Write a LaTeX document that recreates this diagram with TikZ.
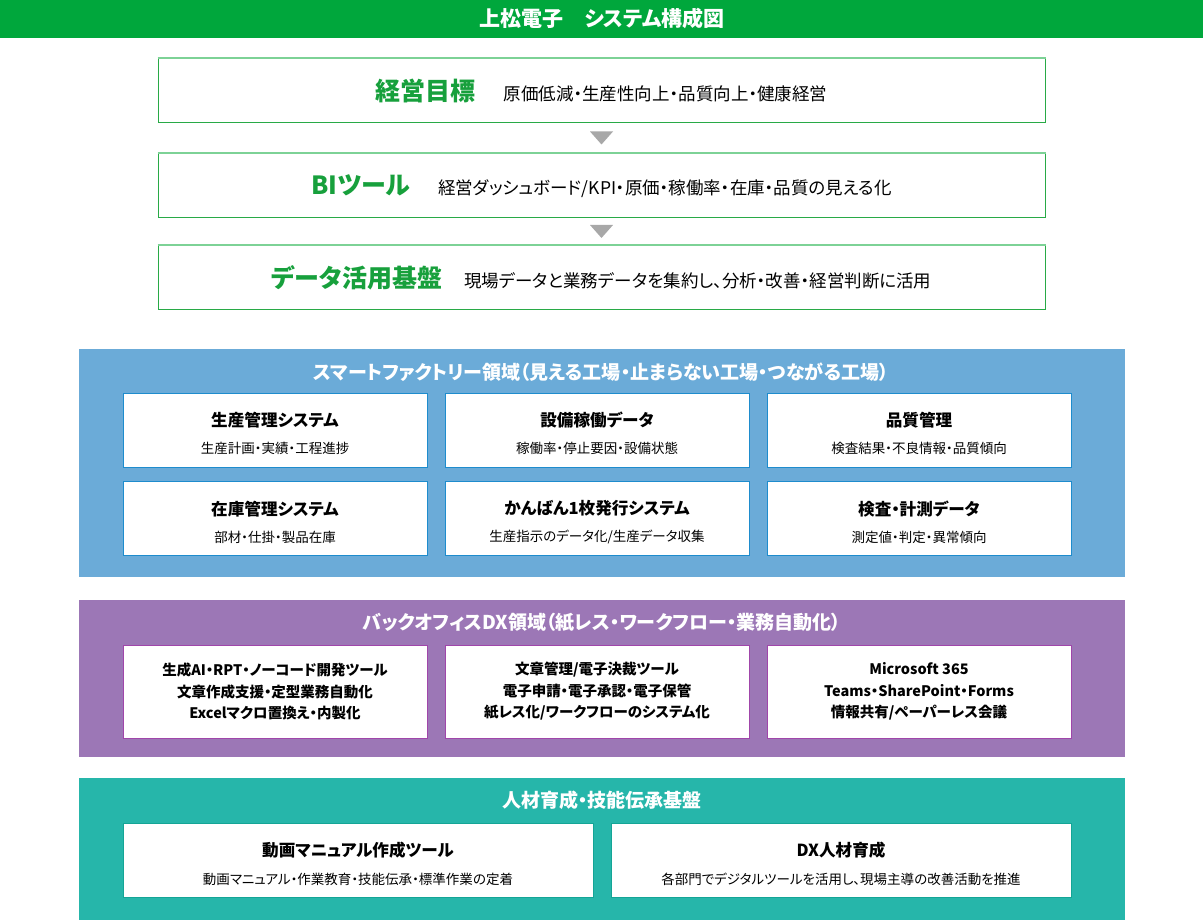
\documentclass[tikz,border=0pt]{standalone}
\usepackage{fontspec}
\setmainfont[RawFeature={+palt}]{Noto Sans CJK JP}
\usetikzlibrary{calc}

\definecolor{barg}{RGB}{0,167,60}
\definecolor{lblg}{RGB}{23,160,60}
\definecolor{goalline}{RGB}{40,170,70}
\definecolor{goaltop}{RGB}{125,210,150}
\definecolor{trig}{RGB}{168,168,168}
\definecolor{smartbg}{RGB}{107,171,216}
\definecolor{smartline}{RGB}{30,140,205}
\definecolor{officebg}{RGB}{156,119,182}
\definecolor{officeline}{RGB}{160,70,170}
\definecolor{staffbg}{RGB}{38,182,170}
\definecolor{staffline}{RGB}{20,165,150}

\newcommand{\cellbox}[2]{\rule{0pt}{22pt}{\fontsize{16.6}{18}\selectfont\bfseries #1}\\[13pt]{\fontsize{13.5}{14}\selectfont #2}}
\newcommand{\goallabel}[1]{\textcolor{lblg}{\fontsize{25}{27}\selectfont\bfseries #1}}

\begin{document}
\begin{tikzpicture}[x=1pt, y=-1pt,
  goal/.style={draw=goalline, line width=1pt, fill=white, minimum width=887pt, minimum height=64pt, inner sep=0pt, font=\fontsize{17.5}{19}\selectfont},
  head/.style={text=white, font=\fontsize{19}{22}\selectfont\bfseries},
  card/.style={draw=#1, line width=1pt, fill=white, minimum width=304pt, minimum height=74pt, inner sep=0pt, align=center},
  tall/.style={minimum height=93pt, font=\fontsize{14.5}{21.5}\selectfont\bfseries},
  tri/.style={fill=trig}]
\useasboundingbox (0,0) rectangle (1203,920);

% 見出し
\fill[barg] (0,0) rectangle (1203,38);
\node[text=white, font=\fontsize{21}{24}\selectfont\bfseries] (title) at (602,19) {上松電子　システム構成図};

% 上の三段
\node[goal] (goal) at (601.5,91) {\goallabel{経営目標}\hspace{28pt}原価低減・生産性向上・品質向上・健康経営};
\node[goal] (bi) at (601.5,186) {\goallabel{BIツール}\hspace{28pt}経営ダッシュボード/KPI・原価・稼働率・在庫・品質の見える化};
\node[goal] (base) at (601.5,278) {\goallabel{データ活用基盤}\hspace{22pt}現場データと業務データを集約し、分析・改善・経営判断に活用};
\foreach \n in {goal,bi,base}
  \draw[goaltop, line width=2pt] (\n.north west) -- (\n.north east);

\fill[tri] ($(goal.south)!0.5!(bi.north)+(-11.5,-7)$) -- ++(23,0) -- ++(-11.5,13) -- cycle;
\fill[tri] ($(bi.south)!0.5!(base.north)+(-11.5,-7)$) -- ++(23,0) -- ++(-11.5,13) -- cycle;

% スマートファクトリー
\fill[smartbg] (79,349) rectangle (1125,577);
\node[head] (smart) at (601,372) {スマートファクトリー領域（見える工場・止まらない工場・つながる工場）};
\node[card=smartline] (prod) at (275,430) {\cellbox{生産管理システム}{生産計画・実績・工程進捗}};
\node[card=smartline] (oper) at (597,430) {\cellbox{設備稼働データ}{稼働率・停止要因・設備状態}};
\node[card=smartline] (qual) at (919,430) {\cellbox{品質管理}{検査結果・不良情報・品質傾向}};
\node[card=smartline] (stock) at (275,518.5) {\cellbox{在庫管理システム}{部材・仕掛・製品在庫}};
\node[card=smartline] (kanban) at (597,518.5) {\cellbox{かんばん1枚発行システム}{生産指示のデータ化/生産データ収集}};
\node[card=smartline] (insp) at (919,518.5) {\cellbox{検査・計測データ}{測定値・判定・異常傾向}};

% バックオフィス
\fill[officebg] (79,600) rectangle (1125,757);
\node[head] (office) at (602,623) {バックオフィスDX領域（紙レス・ワークフロー・業務自動化）};
\node[card=officeline, tall] (gen) at (275,691.5) {生成AI・RPT・ノーコード開発ツール\\文章作成支援・定型業務自動化\\Excelマクロ置換え・内製化};
\node[card=officeline, tall] (doc) at (597,691.5) {文章管理/電子決裁ツール\\電子申請・電子承認・電子保管\\紙レス化/ワークフローのシステム化};
\node[card=officeline, tall] (ms) at (919,691.5) {Microsoft 365\\Teams・SharePoint・Forms\\情報共有/ペーパーレス会議};

% 人材育成
\fill[staffbg] (79,778) rectangle (1125,920);
\node[head] (staff) at (602,800) {人材育成・技能伝承基盤};
\node[card=staffline, minimum width=470pt] (movie) at (358,860) {\cellbox{動画マニュアル作成ツール}{動画マニュアル・作業教育・技能伝承・標準作業の定着}};
\node[card=staffline, minimum width=460pt] (dx) at (841,860) {\cellbox{DX人材育成}{各部門でデジタルツールを活用し、現場主導の改善活動を推進}};
\end{tikzpicture}
\end{document}
